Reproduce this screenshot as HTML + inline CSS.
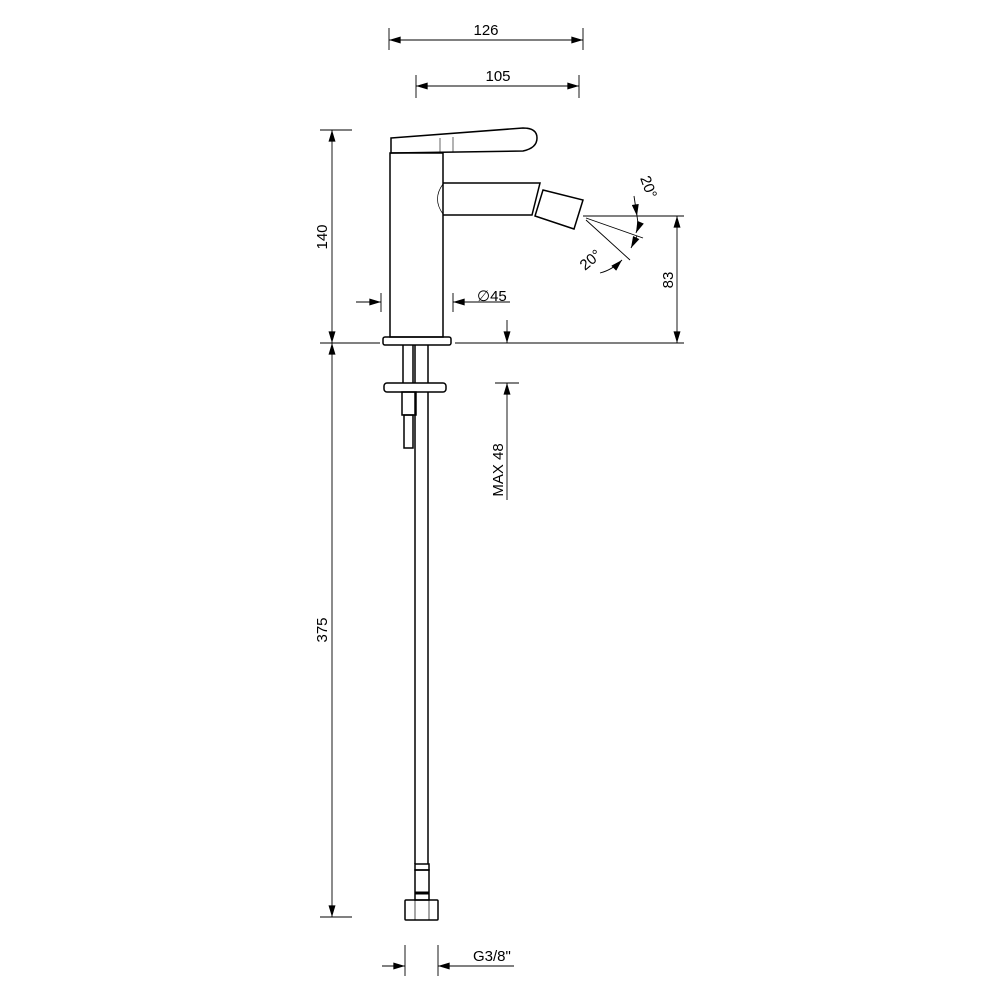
<!DOCTYPE html>
<html><head><meta charset="utf-8"><style>html,body{margin:0;background:#fff}svg{display:block}</style></head><body>
<svg width="1000" height="1000" viewBox="0 0 1000 1000" xmlns="http://www.w3.org/2000/svg" font-family="Liberation Sans, sans-serif" font-size="15" fill="none" stroke="#000">
<defs>
<marker id="a" viewBox="0 0 10 6" refX="10" refY="3" markerWidth="16" markerHeight="7" markerUnits="userSpaceOnUse" orient="auto-start-reverse"><path d="M0,0L10,3L0,6z" fill="#000" stroke="none"/></marker>
</defs>
<g stroke-width="0.9">
<!-- 126 -->
<line x1="389" y1="28" x2="389" y2="50"/><line x1="583" y1="28" x2="583" y2="50"/>
<line x1="389" y1="40" x2="583" y2="40" marker-start="url(#a)" marker-end="url(#a)"/>
<!-- 105 -->
<line x1="416" y1="75" x2="416" y2="98"/><line x1="579" y1="75" x2="579" y2="98"/>
<line x1="416" y1="86" x2="579" y2="86" marker-start="url(#a)" marker-end="url(#a)"/>
<!-- 140 / 375 -->
<line x1="320" y1="130" x2="352" y2="130"/><line x1="320" y1="343" x2="380" y2="343"/><line x1="320" y1="917" x2="352" y2="917"/>
<line x1="332" y1="130" x2="332" y2="343" marker-start="url(#a)" marker-end="url(#a)"/>
<line x1="332" y1="343" x2="332" y2="917" marker-start="url(#a)" marker-end="url(#a)"/>
<!-- baseline -->
<line x1="455" y1="343" x2="684" y2="343"/>
<line x1="583" y1="216" x2="684" y2="216"/>
<line x1="677" y1="216" x2="677" y2="343" marker-start="url(#a)" marker-end="url(#a)"/>
<!-- MAX48 -->
<line x1="507" y1="320" x2="507" y2="343" marker-end="url(#a)"/>
<line x1="495" y1="383" x2="519" y2="383"/>
<line x1="507" y1="500" x2="507" y2="383" marker-end="url(#a)"/>
<!-- d45 -->
<line x1="381" y1="293" x2="381" y2="312"/><line x1="453" y1="293" x2="453" y2="312"/>
<line x1="356" y1="302" x2="381" y2="302" marker-end="url(#a)"/>
<line x1="510" y1="302" x2="453" y2="302" marker-end="url(#a)"/>
<!-- G3/8 -->
<line x1="405" y1="945" x2="405" y2="976"/><line x1="438" y1="945" x2="438" y2="976"/>
<line x1="382" y1="966" x2="405" y2="966" marker-end="url(#a)"/>
<line x1="514" y1="966" x2="438" y2="966" marker-end="url(#a)"/>
<!-- angles -->
<line x1="586" y1="218" x2="643" y2="238"/>
<line x1="586" y1="220" x2="630" y2="260"/>
<line x1="634" y1="196" x2="637" y2="216" marker-end="url(#a)"/>
<path d="M637,216 Q639,226 636,233" marker-end="url(#a)"/>
<line x1="637" y1="236" x2="631" y2="248" marker-end="url(#a)"/>
<path d="M600,273 Q612,270 622,260" marker-end="url(#a)"/>
</g>
<g fill="#000" stroke="none" font-size="15">
<text x="486" y="35" text-anchor="middle">126</text>
<text x="498" y="81" text-anchor="middle">105</text>
<text transform="translate(327,237) rotate(-90)" text-anchor="middle">140</text>
<text transform="translate(327,630) rotate(-90)" text-anchor="middle">375</text>
<text transform="translate(673,280) rotate(-90)" text-anchor="middle">83</text>
<text transform="translate(503,470) rotate(-90)" text-anchor="middle">MAX 48</text>
<text x="477" y="301">∅45</text>
<text x="473" y="961">G3/8"</text>
<text transform="translate(640,178) rotate(70)">20°</text>
<text transform="translate(585,271) rotate(-40)">20°</text>
</g>
<g stroke-width="1.5">
<path d="M391,138 L523,128 Q537,128 537,138 Q537,148 523,151 L391,153 Z"/>
<line x1="440" y1="138" x2="440" y2="152" stroke-width="0.6"/><line x1="453" y1="137" x2="453" y2="152" stroke-width="0.6"/>
<rect x="390" y="153" width="53" height="184"/>
<path d="M443,183 L540,183 L532,215 L443,215"/>
<path d="M443,184 Q432,199 443,214" stroke-width="0.7"/>
<path d="M543,190 L583,200 L574,229 L535,216 Z"/>
<rect x="383" y="337" width="68" height="8" rx="2"/>
<line x1="403" y1="345" x2="403" y2="383"/><line x1="413" y1="345" x2="413" y2="383"/>
<line x1="415" y1="345" x2="415" y2="383"/><line x1="428" y1="345" x2="428" y2="383"/>
<rect x="384" y="383" width="62" height="9" rx="3"/>
<rect x="402" y="392" width="14" height="23"/>
<rect x="404" y="415" width="9" height="33"/>
<line x1="415" y1="392" x2="415" y2="864"/><line x1="428" y1="392" x2="428" y2="864"/>
<rect x="415" y="864" width="14" height="6"/>
<rect x="415" y="870" width="14" height="30"/>
<line x1="415" y1="893" x2="429" y2="893" stroke-width="3"/>
<rect x="405" y="900" width="33" height="20" rx="1"/>
<line x1="415" y1="900" x2="415" y2="920" stroke-width="0.7"/><line x1="429" y1="900" x2="429" y2="920" stroke-width="0.7"/>
</g>
</svg>
</body></html>
